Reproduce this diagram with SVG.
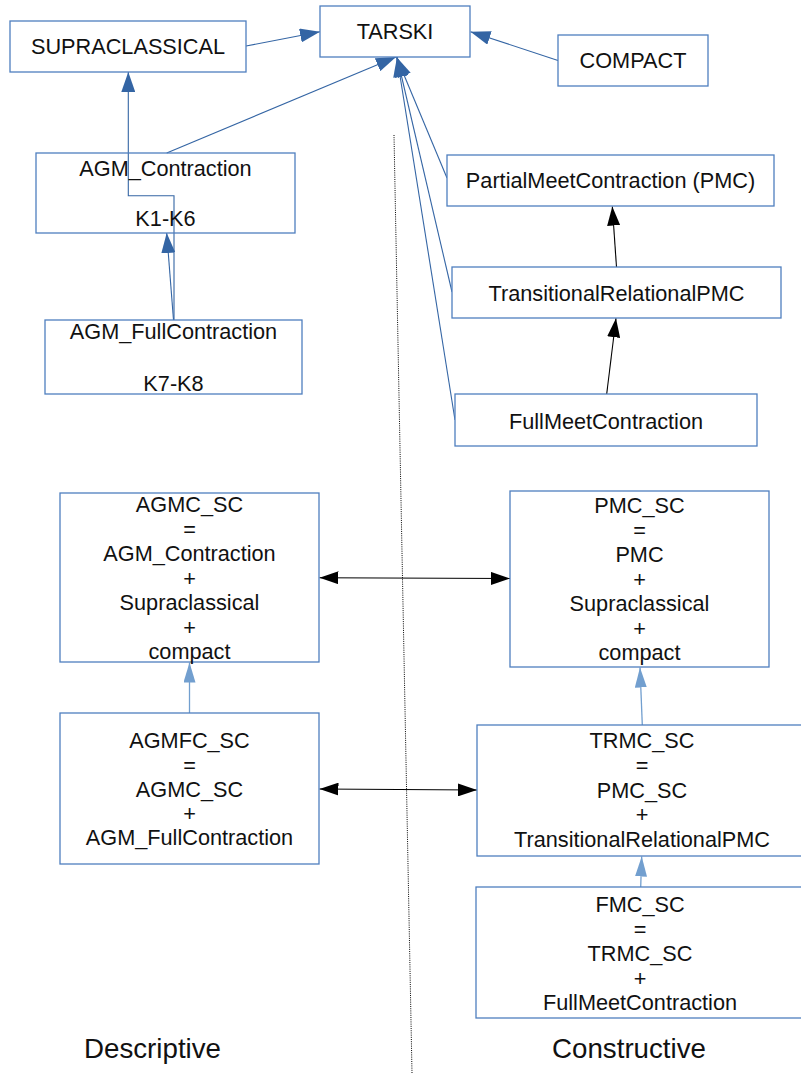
<svg xmlns="http://www.w3.org/2000/svg" width="801" height="1073" viewBox="0 0 801 1073">
<style>
.box{fill:#fff;stroke:#4f7fbf;stroke-width:1.3}
.t{font-family:"Liberation Sans",Arial,sans-serif;font-size:21.7px;fill:#111;text-anchor:middle}
.lbl{font-family:"Liberation Sans",Arial,sans-serif;font-size:27.7px;fill:#111;text-anchor:middle}
.cb{fill:none;stroke:#3465a4;stroke-width:1.1}
.ck{fill:none;stroke:#000;stroke-width:1.1}
.cl{fill:none;stroke:#729fcf;stroke-width:1.3}
</style>
<defs>
<marker id="ab" markerUnits="userSpaceOnUse" markerWidth="20" markerHeight="14" refX="20" refY="7" orient="auto-start-reverse"><path d="M0,0 L20,7 L0,14 z" fill="#3465a4"/></marker>
<marker id="ak" markerUnits="userSpaceOnUse" markerWidth="19" markerHeight="13" refX="19" refY="6.5" orient="auto-start-reverse"><path d="M0,0 L19,6.5 L0,13 z" fill="#000"/></marker>
<marker id="al" markerUnits="userSpaceOnUse" markerWidth="20" markerHeight="12" refX="20" refY="6" orient="auto-start-reverse"><path d="M0,0 L20,6 L0,12 z" fill="#729fcf"/></marker>
</defs>
<rect width="801" height="1073" fill="#fff"/>
<path d="M394,135 L412,1073" stroke="#000" stroke-width="1" stroke-dasharray="1,1.2" fill="none"/>
<g id="connectors">
<path class="cb" d="M246,46 L320,31.7" marker-end="url(#ab)"/>
<path class="cb" d="M558,60.5 L470.5,31.7" marker-end="url(#ab)"/>
<path class="cb" d="M166.7,153 L396,57" marker-end="url(#ab)"/>
<path class="cb" d="M447,178 L396.5,57" marker-end="url(#ab)"/>
<path class="cb" d="M452,292 L397,57" marker-end="url(#ab)"/>
<path class="cb" d="M455,420 L397,57" marker-end="url(#ab)"/>
<path class="cb" d="M174,320 L174,195.7 L128.3,195.7 L128.3,72" marker-end="url(#ab)"/>
<path class="cb" d="M173.5,320 L166.7,233" marker-end="url(#ab)"/>
<path class="ck" d="M616.5,267 L612.3,206.5" marker-end="url(#ak)"/>
<path class="ck" d="M606.7,394 L616,318.3" marker-end="url(#ak)"/>
<path class="ck" d="M319.5,577.7 L510,578.5" marker-start="url(#ak)" marker-end="url(#ak)"/>
<path class="ck" d="M319.5,789 L477,790" marker-start="url(#ak)" marker-end="url(#ak)"/>
<path class="cl" d="M189.5,713 L189.5,662.5" marker-end="url(#al)"/>
<path class="cl" d="M642.3,725 L640,667.5" marker-end="url(#al)"/>
<path class="cl" d="M640.7,887 L641.7,856.5" marker-end="url(#al)"/>
</g>
<g id="supraclassical"><rect class="box" x="10" y="21" width="236" height="51"/><text class="t" x="128" y="54">SUPRACLASSICAL</text></g>
<g id="tarski"><rect class="box" x="320" y="6" width="150" height="51"/><text class="t" x="395" y="39.3">TARSKI</text></g>
<g id="compact"><rect class="box" x="558" y="35" width="150" height="51"/><text class="t" x="633" y="68.3">COMPACT</text></g>
<g id="agm_contraction"><rect class="box" x="36" y="153" width="259" height="80" fill="none" style="fill:none"/><text class="t" x="165.5" y="176">AGM_Contraction</text><text class="t" x="165.5" y="226">K1-K6</text></g>
<g id="agm_fullcontraction"><rect class="box" x="45" y="320" width="257" height="74"/><text class="t" x="173.5" y="339">AGM_FullContraction</text><text class="t" x="173.5" y="390.5">K7-K8</text></g>
<g id="pmc"><rect class="box" x="447" y="155" width="327" height="51"/><text class="t" x="610.5" y="188.3">PartialMeetContraction (PMC)</text></g>
<g id="trpmc"><rect class="box" x="452" y="267" width="329" height="51"/><text class="t" x="616.5" y="300.7">TransitionalRelationalPMC</text></g>
<g id="fullmeet"><rect class="box" x="455" y="394" width="302" height="52"/><text class="t" x="606" y="428.7">FullMeetContraction</text></g>
<g id="agmc_sc"><rect class="box" x="60" y="493" width="259" height="169"/>
<text class="t" x="189.5" y="512">AGMC_SC</text><text class="t" x="189.5" y="536.5">=</text><text class="t" x="189.5" y="561">AGM_Contraction</text><text class="t" x="189.5" y="585.5">+</text><text class="t" x="189.5" y="610">Supraclassical</text><text class="t" x="189.5" y="634.5">+</text><text class="t" x="189.5" y="659">compact</text></g>
<g id="pmc_sc"><rect class="box" x="510" y="491" width="259" height="176"/>
<text class="t" x="639.5" y="513.3">PMC_SC</text><text class="t" x="639.5" y="537.8">=</text><text class="t" x="639.5" y="562.2">PMC</text><text class="t" x="639.5" y="586.7">+</text><text class="t" x="639.5" y="611.1">Supraclassical</text><text class="t" x="639.5" y="635.6">+</text><text class="t" x="639.5" y="660">compact</text></g>
<g id="agmfc_sc"><rect class="box" x="60" y="713" width="259" height="151"/>
<text class="t" x="189.5" y="748.3">AGMFC_SC</text><text class="t" x="189.5" y="772.5">=</text><text class="t" x="189.5" y="796.8">AGMC_SC</text><text class="t" x="189.5" y="821">+</text><text class="t" x="189.5" y="845.3">AGM_FullContraction</text></g>
<g id="trmc_sc"><rect class="box" x="477" y="725" width="330" height="131"/>
<text class="t" x="642" y="748.3">TRMC_SC</text><text class="t" x="642" y="773">=</text><text class="t" x="642" y="797.5">PMC_SC</text><text class="t" x="642" y="822">+</text><text class="t" x="642" y="846.7">TransitionalRelationalPMC</text></g>
<g id="fmc_sc"><rect class="box" x="476" y="887" width="330" height="131"/>
<text class="t" x="640" y="912.3">FMC_SC</text><text class="t" x="640" y="936.7">=</text><text class="t" x="640" y="961.1">TRMC_SC</text><text class="t" x="640" y="985.5">+</text><text class="t" x="640" y="1010">FullMeetContraction</text></g>
<g id="labels"><text class="lbl" x="152.5" y="1058">Descriptive</text><text class="lbl" x="629" y="1058">Constructive</text></g>
</svg>
